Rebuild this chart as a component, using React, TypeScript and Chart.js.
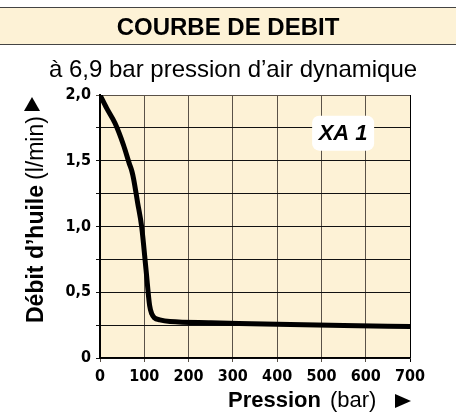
import React, { useEffect, useRef } from "react";
import { Chart, registerables } from "chart.js";

Chart.register(...registerables);

// ---- data ----
const pressureBar = [0, 15, 34, 53, 66, 72, 76, 85, 94, 104, 112, 117, 123, 135, 158, 250, 400, 550, 700];
const oilFlow = [2.0, 1.9, 1.785, 1.62, 1.48, 1.42, 1.36, 1.18, 1.0, 0.67, 0.4, 0.335, 0.305, 0.29, 0.277, 0.268, 0.256, 0.247, 0.24];
const xTicks = [0, 100, 200, 300, 400, 500, 600, 700];
const yTicks = [0, 0.5, 1.0, 1.5, 2.0];
const seriesName = "XA 1";
const seriesLabelAt = [549, 1.71];
const title = "COURBE DE DEBIT";
const subtitle = "à 6,9 bar pression d’air dynamique";
const xTitleBold = "Pression";
const xTitleUnit = "(bar)";
const yTitleBold = "Débit d’huile";
const yTitleUnit = "(l/min)";

const BEIGE = "#fdf2d6";
const SANS = '"Liberation Sans", Arial, Helvetica, sans-serif';
const NARROW = '"Liberation Sans Narrow", "Arial Narrow", "DejaVu Sans Condensed", sans-serif';

const bgPlugin = {
  id: "plotBg",
  beforeDraw(chart: any) {
    const { ctx, chartArea: a } = chart;
    ctx.save();
    ctx.fillStyle = BEIGE;
    ctx.fillRect(a.left, a.top, a.right - a.left, a.bottom - a.top);
    ctx.restore();
  },
};

const labelPlugin = {
  id: "seriesLabel",
  afterDatasetsDraw(chart: any) {
    const { ctx } = chart;
    const x = chart.scales.x.getPixelForValue(seriesLabelAt[0]);
    const y = chart.scales.y.getPixelForValue(seriesLabelAt[1]);
    const w = 62, h = 35, r = 7;
    ctx.save();
    ctx.fillStyle = "#ffffff";
    ctx.beginPath();
    ctx.roundRect(x - w / 2, y - h / 2, w, h, r);
    ctx.fill();
    ctx.fillStyle = "#000";
    ctx.font = `italic bold 22px ${SANS}`;
    ctx.textAlign = "center";
    ctx.textBaseline = "middle";
    ctx.fillText(seriesName, x, y + 1);
    ctx.restore();
  },
};

function fmtY(v: number) {
  if (v === 0) return "0";
  return v.toFixed(1).replace(".", ",");
}

export default function App() {
  const ref = useRef<HTMLCanvasElement | null>(null);

  useEffect(() => {
    if (!ref.current) return;
    const chart = new Chart(ref.current, {
      type: "line",
      data: {
        datasets: [
          {
            label: seriesName,
            data: pressureBar.map((p, i) => ({ x: p, y: oilFlow[i] })),
            borderColor: "#000",
            borderWidth: 5,
            pointRadius: 0,
            cubicInterpolationMode: "monotone",
            borderCapStyle: "round",
            borderJoinStyle: "round",
            clip: 0,
          } as any,
        ],
      },
      options: {
        responsive: false,
        devicePixelRatio: 1,
        animation: false,
        layout: { padding: { top: 95, right: 46, left: 0, bottom: 0 } },
        plugins: { legend: { display: false }, tooltip: { enabled: false } },
        scales: {
          x: {
            type: "linear",
            min: 0,
            max: 700,
            afterFit(scale: any) {
              scale.height = 58;
            },
            afterBuildTicks(scale: any) {
              scale.ticks = xTicks.map((v) => ({ value: v }));
            },
            ticks: {
              color: "#000",
              font: { family: NARROW, size: 16, weight: "bold" },
              padding: 5,
              maxRotation: 0,
              autoSkip: false,
            },
            grid: {
              color: (c: any) => (c.tick && c.tick.value === 700 ? "#000" : "#5a5248"),
              lineWidth: 1,
              tickLength: 4,
            },
            border: { color: "#000", width: 1.5 },
          },
          y: {
            type: "linear",
            min: 0,
            max: 2,
            afterFit(scale: any) {
              scale.width = 100;
            },
            ticks: {
              stepSize: 0.25,
              autoSkip: false,
              color: "#000",
              font: { family: NARROW, size: 16, weight: "bold" },
              padding: 5,
              callback: (v: any) => {
                const n = Number(v);
                return yTicks.some((t) => Math.abs(t - n) < 1e-6) ? fmtY(n) : "";
              },
            },
            grid: {
              color: (c: any) => (c.tick && c.tick.value === 2 ? "#5a5248" : "#111"),
              lineWidth: 1,
              tickLength: 4,
            },
            border: { color: "#000", width: 2 },
          },
        },
      },
      plugins: [bgPlugin, labelPlugin],
    });
    return () => chart.destroy();
  }, []);

  return (
    <div
      style={{
        position: "fixed",
        left: 0,
        top: 0,
        width: 456,
        height: 416,
        background: "#fff",
        overflow: "hidden",
        fontFamily: SANS,
        color: "#000",
      }}
    >
      <canvas ref={ref} width={456} height={416} style={{ position: "absolute", left: 0, top: 0 }} />
      <div
        style={{
          position: "absolute",
          left: 0,
          top: 7,
          width: 456,
          height: 36,
          background: BEIGE,
          borderTop: "1px solid #444",
          borderBottom: "1px solid #444",
        }}
      />
      <div
        style={{
          position: "absolute",
          left: 0,
          top: 14.7,
          width: 456,
          textAlign: "center",
          fontSize: 24,
          lineHeight: "24px",
          fontWeight: "bold",
          whiteSpace: "nowrap",
        }}
      >
        {title}
      </div>
      <div
        style={{
          position: "absolute",
          left: 0,
          top: 56.7,
          width: 466,
          textAlign: "center",
          fontSize: 24,
          lineHeight: "24px",
          whiteSpace: "nowrap",
        }}
      >
        {subtitle}
      </div>
      {/* x axis title */}
      <div
        style={{
          position: "absolute",
          left: 228,
          top: 389.4,
          fontSize: 22,
          lineHeight: "22px",
          whiteSpace: "nowrap",
        }}
      >
        <span style={{ fontWeight: "bold" }}>{xTitleBold}</span>
        <span style={{ marginLeft: 9 }}>{xTitleUnit}</span>
      </div>
      <div
        style={{
          position: "absolute",
          left: 395,
          top: 394,
          width: 0,
          height: 0,
          borderTop: "7px solid transparent",
          borderBottom: "7px solid transparent",
          borderLeft: "16px solid #000",
        }}
      />
      {/* y axis title */}
      <div
        style={{
          position: "absolute",
          left: 23.5,
          top: 323,
          transformOrigin: "0 0",
          transform: "rotate(-90deg)",
          fontSize: 23,
          lineHeight: "22px",
          whiteSpace: "nowrap",
        }}
      >
        <span style={{ fontWeight: "bold" }}>{yTitleBold}</span>
        <span style={{ marginLeft: 5 }}>{yTitleUnit}</span>
      </div>
      <div
        style={{
          position: "absolute",
          left: 24,
          top: 97,
          width: 0,
          height: 0,
          borderLeft: "8px solid transparent",
          borderRight: "8px solid transparent",
          borderBottom: "14px solid #000",
        }}
      />
    </div>
  );
}
